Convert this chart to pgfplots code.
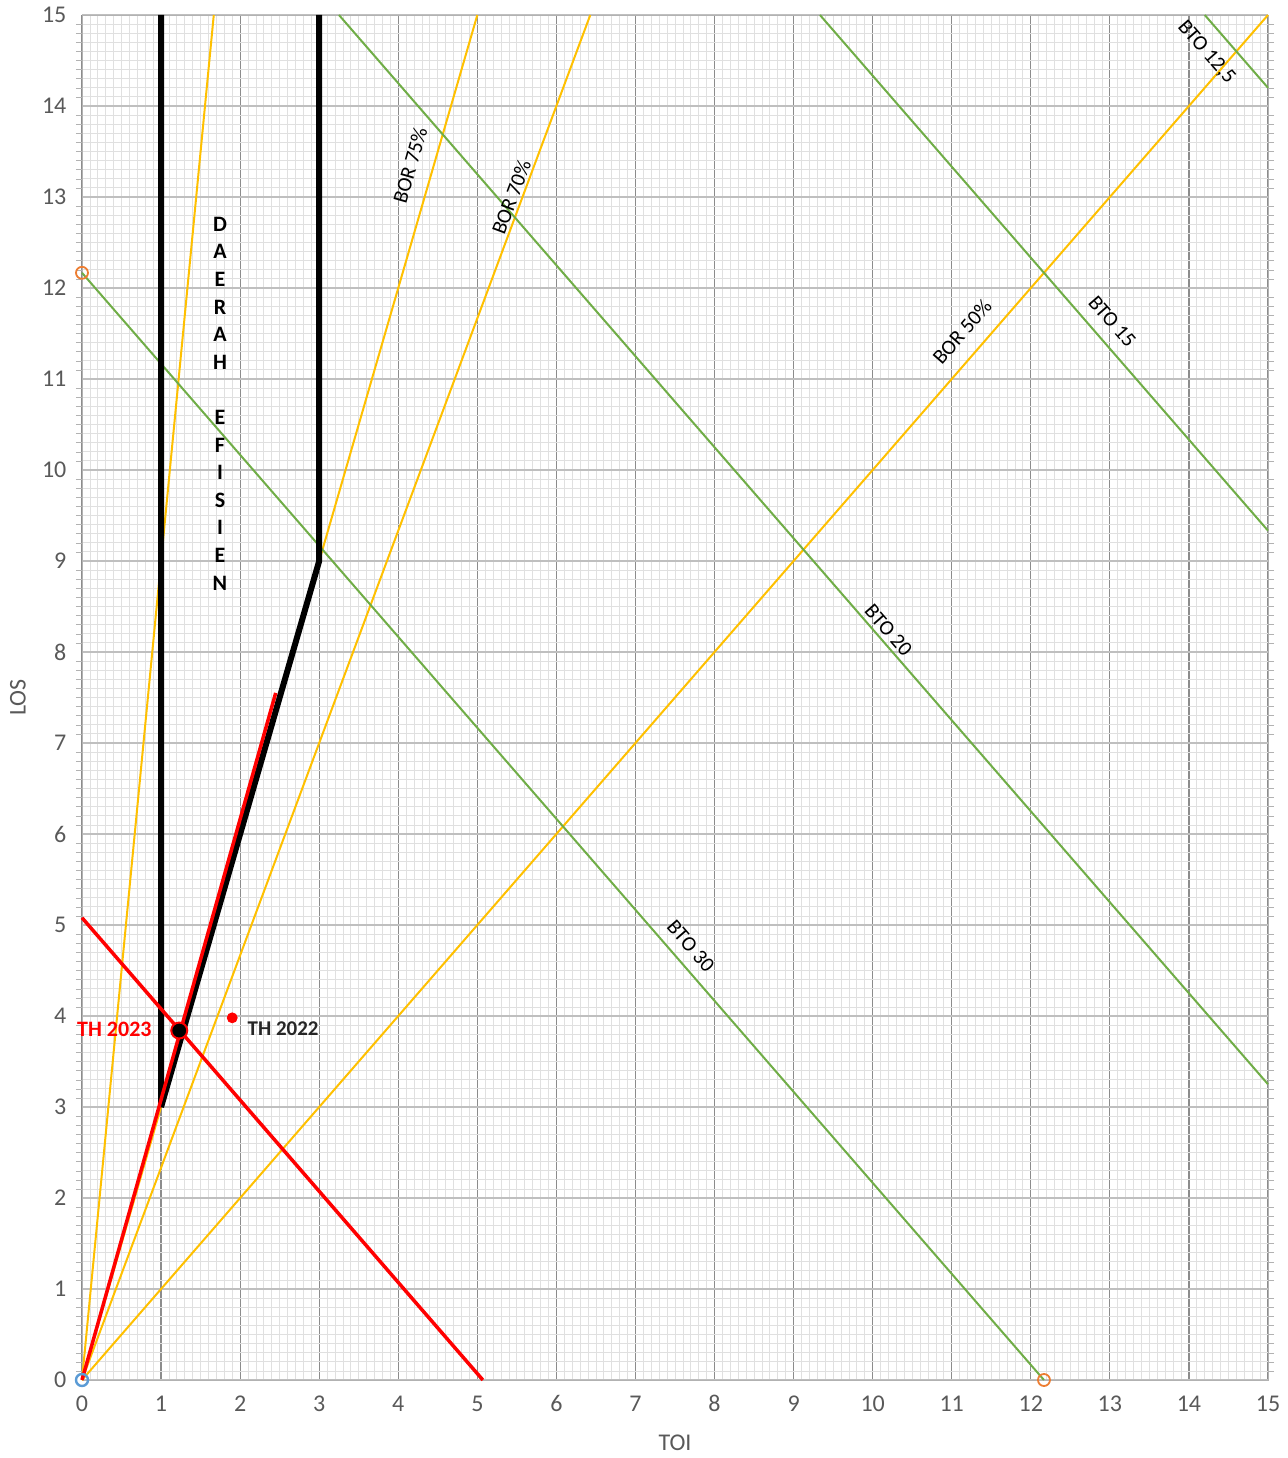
\documentclass[border=0pt]{standalone}
\usepackage{pgfplots}
\pgfplotsset{compat=1.18}
\usepackage{fontspec}
\setmainfont{Carlito}
\definecolor{bory}{HTML}{FFC000}
\definecolor{btog}{HTML}{70AD47}
\definecolor{tickg}{HTML}{595959}
\definecolor{orng}{HTML}{ED7D31}
\definecolor{blu}{HTML}{5B9BD5}
\begin{document}
\begin{tikzpicture}
\begin{axis}[
  scale only axis, width=593pt, height=682.5pt,
  xmin=0, xmax=15, ymin=0, ymax=15,
  xtick={0,1,...,15}, ytick={0,1,...,15},
  minor tick num=9,
  grid=both,
  major x grid style={draw=black!45, line width=0.6pt},
  major y grid style={draw=black!25, line width=0.6pt},
  minor grid style={draw=black!12, line width=0.4pt},
  axis line style={draw=black!30},
  x tick style={draw=none},
  y tick style={draw=none},
  minor y tick style={draw=black!30},
  tick align=outside, minor tick length=3pt,
  ticklabel style={font=\fontsize{12}{14}\selectfont, text=tickg},
  /pgf/number format/assume math mode=true,
  xlabel={TOI}, ylabel={LOS},
  label style={font=\fontsize{12}{14}\selectfont, text=tickg},
  xlabel style={at={(axis description cs:0.5,-0.0462)}, anchor=center},
  ylabel style={at={(axis description cs:-0.054,0.5)}, anchor=center},
  clip=false,
]
% BOR lines (yellow)
\addplot[bory, line width=1pt] coordinates {(0,0) (1.6667,15)};
\addplot[bory, line width=1pt] coordinates {(0,0) (5,15)};
\addplot[bory, line width=1pt] coordinates {(0,0) (6.4286,15)};
\addplot[bory, line width=1pt] coordinates {(0,0) (15,15)};
% BTO lines (green)
\addplot[btog, line width=1pt] coordinates {(0,12.1667) (12.1667,0)};
\addplot[btog, line width=1pt] coordinates {(3.25,15) (15,3.25)};
\addplot[btog, line width=1pt] coordinates {(9.3333,15) (15,9.3333)};
\addplot[btog, line width=1pt] coordinates {(14.2,15) (15,14.2)};
% efficient region (black)
\addplot[black, line width=3pt, line join=bevel] coordinates {(1,15) (1,3) (3,9) (3,15)};
% red lines
\addplot[red, line width=1.75pt] coordinates {(0,0) (2.45,7.55)};
\addplot[red, line width=1.75pt] coordinates {(0,5.08) (5.07,0)};
% points
\addplot[only marks, mark=*, mark size=4pt, mark options={fill=black, draw=red, line width=1pt}] coordinates {(1.23,3.84)};
\addplot[only marks, mark=*, mark size=2.5pt, mark options={fill=red, draw=red}] coordinates {(1.9,3.98)};
\addplot[only marks, mark=o, mark size=3pt, mark options={draw=orng, line width=0.9pt}] coordinates {(0,12.1667) (12.1667,0)};
\addplot[only marks, mark=o, mark size=3pt, mark options={draw=blu, line width=1.2pt}] coordinates {(0,0)};
% labels
\node[font=\fontsize{11}{13}\selectfont\bfseries, text=red, anchor=east, inner sep=0pt] at (axis cs:0.885,3.85) {TH 2023};
\node[font=\fontsize{10.5}{12}\selectfont\bfseries, text=black!85, anchor=west, inner sep=0pt] at (axis cs:2.09,3.86) {TH 2022};
\node[font=\fontsize{10.5}{12}\selectfont, rotate=74] at (axis cs:4.15,13.35) {BOR 75\%};
\node[font=\fontsize{10.5}{12}\selectfont, rotate=69.6] at (axis cs:5.43,13.0) {BOR 70\%};
\node[font=\fontsize{10.5}{12}\selectfont, rotate=49] at (axis cs:11.13,11.52) {BOR 50\%};
\node[font=\fontsize{10.5}{12}\selectfont, rotate=-49] at (axis cs:14.22,14.59) {BTO 12,5};
\node[font=\fontsize{10.5}{12}\selectfont, rotate=-49] at (axis cs:13.03,11.63) {BTO 15};
\node[font=\fontsize{10.5}{12}\selectfont, rotate=-49] at (axis cs:10.2,8.24) {BTO 20};
\node[font=\fontsize{10.5}{12}\selectfont, rotate=-49] at (axis cs:7.70,4.77) {BTO 30};
\node[font=\fontsize{11}{13.8}\selectfont\bfseries, align=center, inner sep=0pt] at (axis cs:1.745,10.73)
  {D\\A\\E\\R\\A\\H\\ ~ \\E\\F\\I\\S\\I\\E\\N};
\end{axis}
\pgfresetboundingbox
\path (-41pt,-39pt) rectangle (603pt,690pt);
\end{tikzpicture}
\end{document}
